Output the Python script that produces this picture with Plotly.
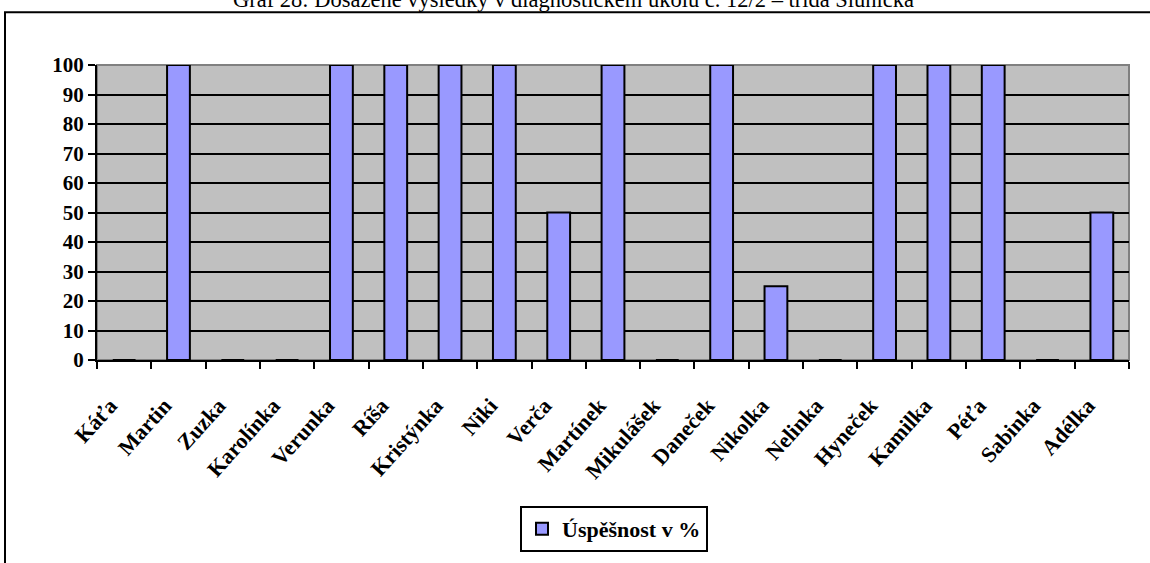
import plotly.graph_objects as go

# data
names = [
    "Káťa", "Martin", "Zuzka", "Karolínka", "Verunka", "Ríša", "Kristýnka",
    "Niki", "Verča", "Martínek", "Mikulášek", "Daneček", "Nikolka", "Nelinka",
    "Hyneček", "Kamilka", "Péťa", "Sabinka", "Adélka",
]
success = [0, 100, 0, 0, 100, 100, 100, 100, 50, 100, 0, 100, 25, 0, 100, 100, 100, 0, 50]
y_ticks = list(range(0, 101, 10))

TITLE = "Graf 28: Dosažené výsledky v diagnostickém úkolu č. 12/2 – třída Sluníčka"
SERIES = "Úspěšnost v %"

BAR_COLOR = "#9999FF"
PLOT_BG = "#C0C0C0"
FONT = "Liberation Serif"

W, H = 1150, 563
L, R, T, B = 97, 21, 65, 202
pw, ph = W - L - R, H - T - B


def px_x(x):
    return (x - L) / pw


def px_y(y):
    return (H - B - y) / ph


fig = go.Figure(
    go.Bar(
        x=names,
        y=success,
        name=SERIES,
        marker=dict(color=BAR_COLOR, line=dict(color="black", width=2)),
        showlegend=True,
    )
)

fig.update_xaxes(
    type="category",
    tickangle=-48,
    tickson="boundaries",
    ticks="outside",
    ticklen=7,
    tickcolor="black",
    tickwidth=2,
    ticklabelstandoff=22,
    ticklabelshift=-14,
    showline=True,
    linecolor="black",
    linewidth=2,
    showgrid=False,
    tickfont=dict(family=FONT, size=22, color="black", weight="bold"),
)
fig.update_yaxes(
    range=[0, 100],
    tickvals=y_ticks,
    ticks="outside",
    ticklen=7,
    tickcolor="black",
    tickwidth=2,
    showline=True,
    linecolor="black",
    linewidth=2,
    showgrid=True,
    gridcolor="black",
    gridwidth=2,
    zeroline=False,
    tickfont=dict(family=FONT, size=21, color="black", weight="bold"),
)

# grey frame round the plot area, outer chart border
fig.add_shape(type="rect", xref="paper", yref="paper", x0=0, x1=1, y0=0, y1=1,
              line=dict(color="#808080", width=2), layer="between")
fig.add_shape(type="rect", xref="paper", yref="paper",
              x0=px_x(5), x1=px_x(1200), y0=px_y(12), y1=px_y(700),
              line=dict(color="black", width=2))

fig.add_annotation(
    text=TITLE, xref="paper", yref="paper", x=px_x(573), y=px_y(-1),
    xanchor="center", yanchor="middle", showarrow=False,
    font=dict(family=FONT, size=22.5, color="black"),
)

fig.update_layout(
    width=W,
    height=H,
    margin=dict(l=L, r=R, t=T, b=B, pad=0),
    plot_bgcolor=PLOT_BG,
    paper_bgcolor="white",
    bargap=0.58,
    font=dict(family=FONT, color="black"),
    legend=dict(
        x=px_x(614), y=px_y(506), xanchor="center", yanchor="top",
        bordercolor="black", borderwidth=2, bgcolor="white",
        font=dict(family=FONT, size=22, color="black", weight="bold"),
    ),
)

fig.write_html(
    "out.html",
    config={"displayModeBar": False},
    post_script="document.body.style.margin = '0';",
)
